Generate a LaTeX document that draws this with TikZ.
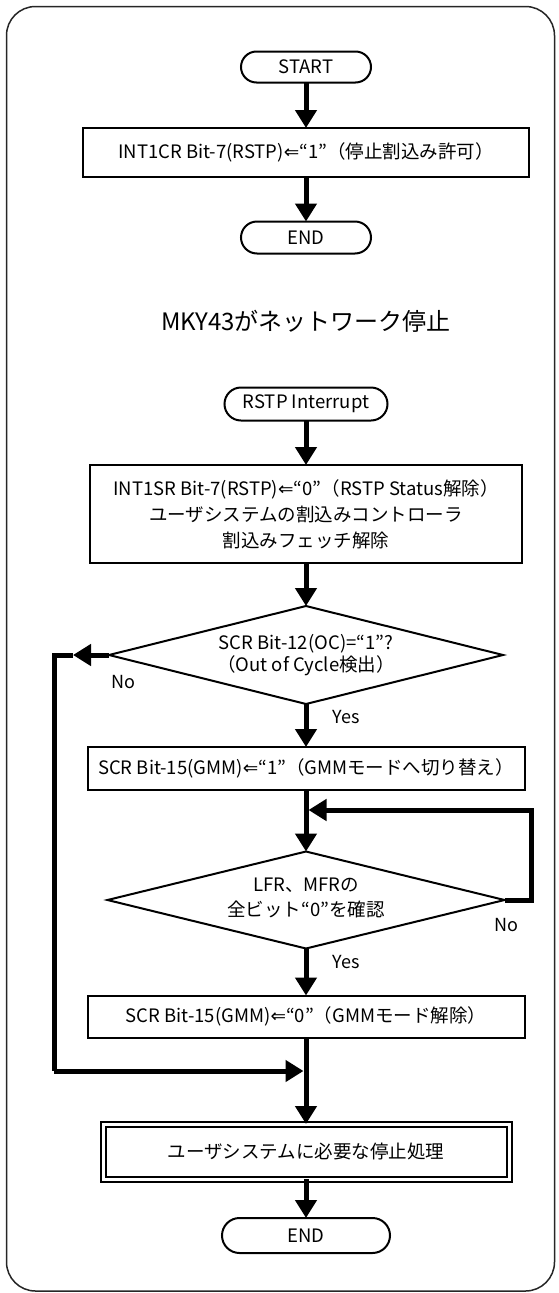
\documentclass[tikz,border=0pt]{standalone}
\usepackage{fontspec}
\setmainfont{Noto Sans CJK JP}
\newfontfamily\arrfont{DejaVu Sans}
\usetikzlibrary{arrows.meta,shapes.geometric,shapes.misc}
\newcommand{\larr}{{\arrfont ⇐}}
\begin{document}
\begin{tikzpicture}[x=1pt,y=-1pt,
  every node/.style={font=\fontsize{18.5}{24}\selectfont, inner sep=0pt, outer sep=0pt, align=center},
  term/.style={draw, line width=2pt, rounded rectangle},
  proc/.style={draw, line width=2pt, rectangle},
  dec/.style={draw, line width=2pt, diamond},
  flow/.style={line width=5pt, -{Triangle[width=21pt,length=18pt]}},
  plain/.style={line width=5pt},
  lbl/.style={font=\fontsize{18}{20}\selectfont}
]
\useasboundingbox (0,0) rectangle (559,1293);
\draw[line width=1.5pt, black!85, rounded corners=29pt] (6.5,6.5) rectangle (554.5,1291);

% first flow
\node[term, minimum width=130pt, minimum height=31pt] (start) at (306,67) {START};
\node[proc, minimum width=446pt, minimum height=49pt] (b1) at (306,152.5) {INT1CR Bit-7(RSTP)\larr“1”（停止割込み許可）};
\node[term, minimum width=130pt, minimum height=32pt] (end1) at (306,237.5) {END};
\draw[flow] (start) -- (b1);
\draw[flow] (b1) -- (end1);

\node[font=\fontsize{24}{26}\selectfont] (title) at (306,321) {MKY43がネットワーク停止};

% second flow
\node[term, minimum width=163pt, minimum height=33pt] (rstp) at (306,404) {RSTP Interrupt};
\node[proc, minimum width=432pt, minimum height=98pt, font=\fontsize{18.5}{26}\selectfont] (b2) at (306,514)
  {INT1SR Bit-7(RSTP)\larr“0”（RSTP Status解除）\\ユーザシステムの割込みコントローラ\\割込みフェッチ解除};
\node[dec, minimum width=394pt, minimum height=98pt] (d1) at (306,655) {};
\node[font=\fontsize{18.5}{22}\selectfont] (d1t) at (306,655) {SCR Bit-12(OC)=“1”?\\（Out of Cycle検出）};
\node[proc, minimum width=437pt, minimum height=43pt] (b3) at (306,768.5) {SCR Bit-15(GMM)\larr“1”（GMMモードへ切り替え）};
\node[dec, minimum width=397pt, minimum height=97pt] (d2) at (306,900) {};
\node[font=\fontsize{18.5}{25}\selectfont] (d2t) at (306,898) {LFR、MFRの\\全ビット“0”を確認};
\node[proc, minimum width=437pt, minimum height=42pt] (b4) at (306,1016.5) {SCR Bit-15(GMM)\larr“0”（GMMモード解除）};
\node[proc, double, double distance=3pt, minimum width=406pt, minimum height=55pt] (b5) at (306,1151.5) {ユーザシステムに必要な停止処理};
\node[term, minimum width=168pt, minimum height=35pt] (end2) at (306,1235.5) {END};

\draw[flow] (rstp) -- (b2);
\draw[flow] (b2) -- (d1);
\draw[flow] (d1) -- (b3);
\draw[flow] (b3) -- (d2);
\draw[flow] (d2) -- (b4);
\draw[flow] (b4) -- (b5);
\draw[flow] (b5) -- (end2);

% No branch of first decision
\coordinate (n1tip) at (73,655);
\coordinate (n1c) at (54,655);
\coordinate (n1d) at (54,1071);
\coordinate (merge) at (303.5,1071);
\draw[flow] (d1.west) -- (n1tip);
\draw[plain] (n1tip) -- (n1c) -- (n1d);
\draw[flow] (n1d) -- (merge);

% No loop of second decision
\coordinate (l1) at (531,900);
\coordinate (l2) at (531,810);
\coordinate (l3) at (308.5,810);
\draw[flow] (d2.east) -- (l1) -- (l2) -- (l3);

% labels
\node[lbl] (no1) at (123,682) {No};
\node[lbl] (yes1) at (346,717) {Yes};
\node[lbl] (no2) at (506,925) {No};
\node[lbl] (yes2) at (346,962) {Yes};
\end{tikzpicture}
\end{document}
